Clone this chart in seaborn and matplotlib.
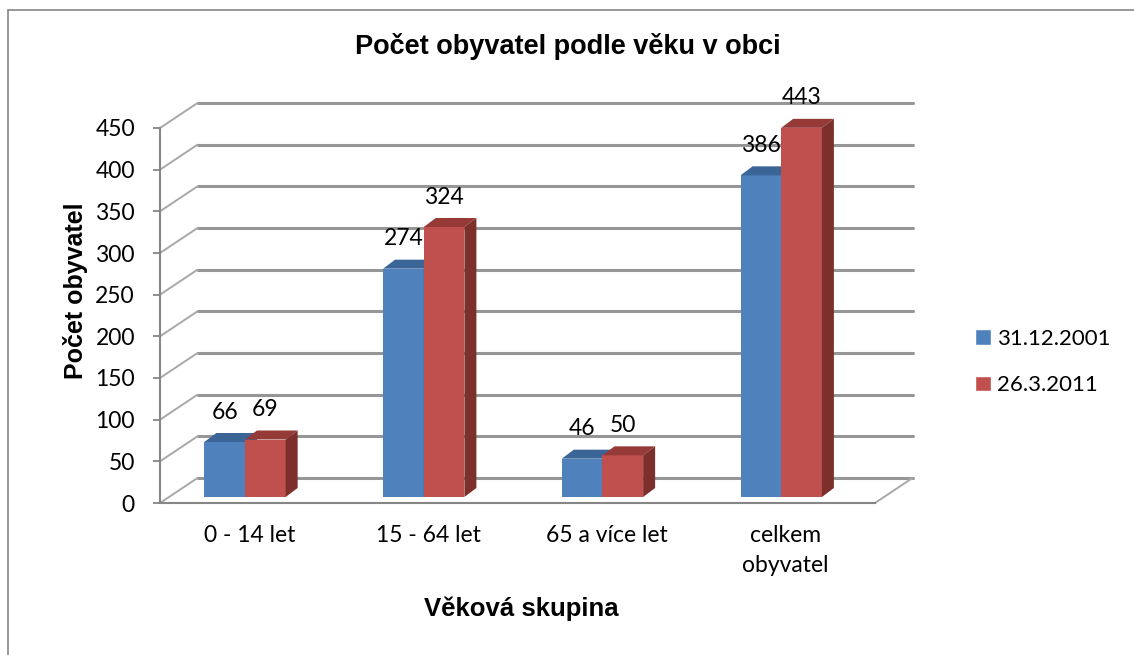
import seaborn as sns
import matplotlib.pyplot as plt
import pandas as pd
from matplotlib.patches import Polygon
from matplotlib.lines import Line2D

# data
skupiny = ["0 - 14 let", "15 - 64 let", "65 a více let", "celkem\nobyvatel"]
serie = ["31.12.2001", "26.3.2011"]
hodnoty_2001 = [66, 274, 46, 386]
hodnoty_2011 = [69, 324, 50, 443]
y_ticks = [0, 50, 100, 150, 200, 250, 300, 350, 400, 450]

df = pd.DataFrame({
    "skupina": skupiny * 2,
    "datum": [serie[0]] * 4 + [serie[1]] * 4,
    "pocet": hodnoty_2001 + hodnoty_2011,
})

sns.set_theme(style="white")
plt.rcParams["font.family"] = ["Lato", "DejaVu Sans"]
plt.rcParams["text.color"] = "black"
plt.rcParams["xtick.labelcolor"] = "black"
plt.rcParams["ytick.labelcolor"] = "black"

blue, red = "#4F81BD", "#C0504D"
blue_top, blue_side = "#3B6497", "#385D8A"
red_top, red_side = "#963A38", "#7D2F2C"
grid_c = "#969696"
axis_c = "#868686"

W, H = 1134, 655
fig = plt.figure(figsize=(W / 100, H / 100), dpi=100)
# front plane of the 3D box (pixels: x 160..875, y 503..128)
ax = fig.add_axes([160 / W, (H - 503) / H, 715 / W, 375 / H])

sns.barplot(data=df, x="skupina", y="pocet", hue="datum", palette=[blue, red],
            width=0.455, saturation=1, ax=ax, errorbar=None)

px_x = 715 / 4          # pixels per category unit
px_y = 375 / 450        # pixels per value unit
# bars sit a bit behind the front plane
bar_dx, bar_dy = -4.4 / px_x, 6 / px_y
# depth of a bar
dep_x, dep_y = 12 / px_x, 9 / px_y
# back wall
back_dx, back_dy = 37.5 / px_x, 25 / px_y

# back wall gridlines + left wall diagonals + floor
for v in y_ticks:
    ax.add_line(Line2D([-0.5 + back_dx, 3.5 + back_dx], [v + back_dy, v + back_dy],
                       color=grid_c, lw=2.2, zorder=0.5, clip_on=False))
    ax.add_line(Line2D([-0.5, -0.5 + back_dx], [v, v + back_dy],
                       color="#A8A8A8", lw=1.4, zorder=0.6, clip_on=False))
ax.add_line(Line2D([3.5, 3.5 + back_dx], [0, back_dy],
                   color="#A8A8A8", lw=1.4, zorder=0.6, clip_on=False))

# shift bars and add 3D faces
for ci, (cont, ctop, cside) in enumerate(zip(ax.containers, [blue_top, red_top], [blue_side, red_side])):
    for p in cont.patches:
        x0 = p.get_x() + bar_dx
        w = p.get_width()
        h = p.get_height()
        p.set_x(x0)
        p.set_y(bar_dy)
        p.set_height(h)
        p.set_clip_on(False)
        p.set_edgecolor("none")
        p.set_zorder(2 + ci * 0.2)
        top = Polygon([(x0, h + bar_dy), (x0 + w, h + bar_dy),
                       (x0 + w + dep_x, h + bar_dy + dep_y), (x0 + dep_x, h + bar_dy + dep_y)],
                      closed=True, facecolor=ctop, edgecolor="none", zorder=2.1 + ci * 0.2, clip_on=False)
        side = Polygon([(x0 + w, bar_dy), (x0 + w, h + bar_dy),
                        (x0 + w + dep_x, h + bar_dy + dep_y), (x0 + w + dep_x, bar_dy + dep_y)],
                       closed=True, facecolor=cside, edgecolor="none", zorder=2.1 + ci * 0.2, clip_on=False)
        ax.add_patch(top)
        ax.add_patch(side)
        ax.annotate(f"{int(h)}", (x0 + w / 2, h + bar_dy), xytext=(0, 14),
                    textcoords="offset points", ha="center", va="bottom",
                    fontsize=16.5, color="black", zorder=5, annotation_clip=False)

ax.set_xlim(-0.5, 3.5)
ax.set_ylim(0, 450)
ax.set_yticks(y_ticks)
ax.set_xlabel("")
ax.set_ylabel("")
for s in ["top", "right"]:
    ax.spines[s].set_visible(False)
for s in ["left", "bottom"]:
    ax.spines[s].set_color(axis_c)
    ax.spines[s].set_linewidth(1.5)
ax.tick_params(axis="y", left=True, length=5, width=1.3, color=axis_c, pad=13,
               labelsize=16.5, labelcolor="black")
ax.tick_params(axis="x", bottom=False, length=0, pad=16, labelsize=16.5, labelcolor="black")
for t in ax.get_xticklabels():
    t.set_linespacing(1.5)
    t.set_va("top")

sns.move_legend(ax, "center left", bbox_to_anchor=(975 / W, 1 - 362 / H),
                bbox_transform=fig.transFigure, frameon=False, title=None,
                fontsize=16, handlelength=0.7, handleheight=0.7,
                handletextpad=0.3, labelspacing=1.2, borderpad=0, borderaxespad=0,
                labelcolor="black")

bold = dict(family=["Liberation Sans", "DejaVu Sans"], fontweight="bold", color="black")
fig.text(568 / W, 1 - 47 / H, "Počet obyvatel podle věku v obci", ha="center", va="center",
         fontsize=19.5, **bold)
fig.text(75 / W, 1 - 291 / H, "Počet obyvatel", rotation=90, ha="center", va="center",
         fontsize=18, **bold)
fig.text(521 / W, 1 - 609 / H, "Věková skupina", ha="center", va="center",
         fontsize=18.5, **bold)

# outer chart border
fig.add_artist(Line2D([8 / W, 8 / W], [0, 1 - 10 / H], color=axis_c, lw=1.2, transform=fig.transFigure))
fig.add_artist(Line2D([8 / W, 1], [1 - 10 / H, 1 - 10 / H], color=axis_c, lw=1.2, transform=fig.transFigure))

fig.savefig("out.png", dpi=100)
